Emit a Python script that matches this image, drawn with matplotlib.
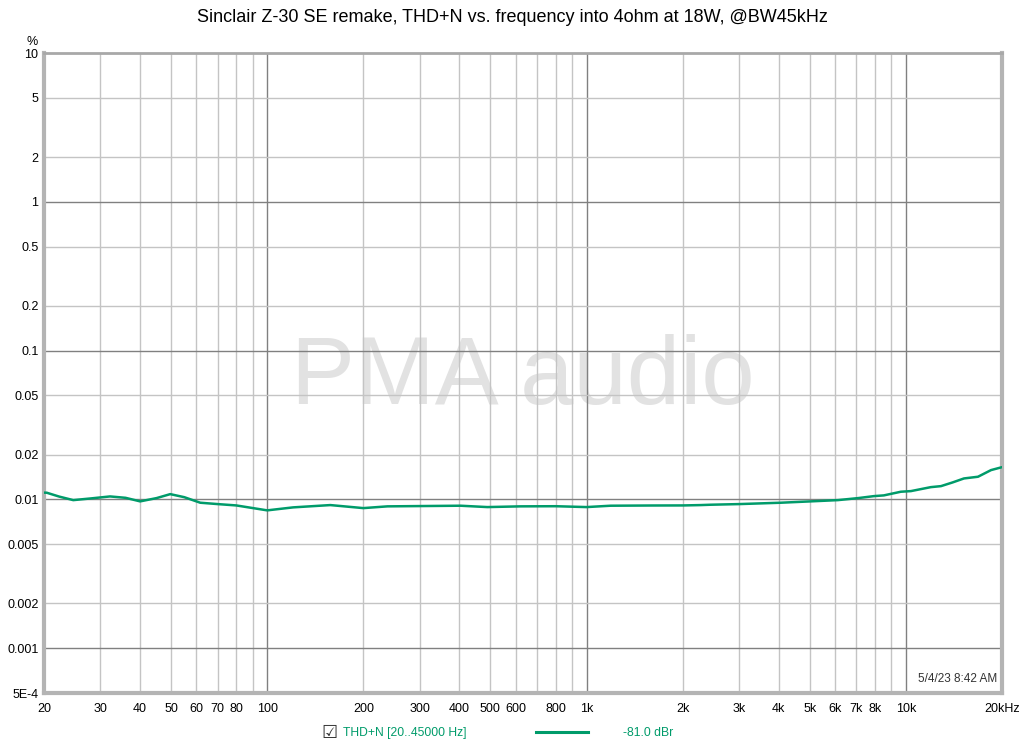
import matplotlib
matplotlib.use("Agg")
import matplotlib.pyplot as plt
import numpy as np
from matplotlib.ticker import FixedLocator, NullLocator

plt.rcParams['font.family'] = ['Liberation Sans', 'DejaVu Sans']

# Data
freq_hz = [20, 20.4, 22.3, 24.7, 28, 32.2, 36, 40, 45, 49.7, 55, 61.7, 70, 80, 90,
           100, 120.6, 157.6, 200, 238, 300, 403, 489, 621, 800, 1000, 1190,
           1600, 2010, 2278, 2448, 3000, 4058, 5036, 6124, 7075, 7938, 8531,
           9644, 10370, 11970, 12880, 14000, 15200, 16820, 18480, 20000]
thd_pct = [0.0111, 0.01109, 0.01045, 0.00989, 0.01015, 0.01047, 0.01025, 0.00970,
           0.01020, 0.01085, 0.01035, 0.00950, 0.00930, 0.00911, 0.00875,
           0.00844, 0.00884, 0.00916, 0.00874, 0.00898, 0.00902, 0.00907,
           0.00888, 0.00898, 0.00900, 0.00888, 0.00907, 0.00910, 0.00911,
           0.00916, 0.00921, 0.00930, 0.00950, 0.00970, 0.00989, 0.01020,
           0.01052, 0.01064, 0.01126, 0.01137, 0.01209, 0.01228, 0.01300,
           0.01383, 0.01420, 0.01574, 0.01647]

x_ticks = [20, 30, 40, 50, 60, 70, 80, 100, 200, 300, 400, 500, 600, 800,
           1000, 2000, 3000, 4000, 5000, 6000, 7000, 8000, 10000, 20000]
x_labels = ['20', '30', '40', '50', '60', '70', '80', '100', '200', '300', '400',
            '500', '600', '800', '1k', '2k', '3k', '4k', '5k', '6k', '7k', '8k',
            '10k', '20kHz']
x_minor_grid = [30, 40, 50, 60, 70, 80, 90, 200, 300, 400, 500, 600, 700, 800, 900,
                2000, 3000, 4000, 5000, 6000, 7000, 8000, 9000]
x_major_grid = [100, 1000, 10000]

y_ticks = [10, 5, 2, 1, 0.5, 0.2, 0.1, 0.05, 0.02, 0.01, 0.005, 0.002, 0.001, 0.0005]
y_labels = ['10', '5', '2', '1', '0.5', '0.2', '0.1', '0.05', '0.02', '0.01',
            '0.005', '0.002', '0.001', '5E-4']
y_minor_grid = [5, 2, 0.5, 0.2, 0.05, 0.02, 0.005, 0.002]
y_major_grid = [1, 0.1, 0.01, 0.001]

title = "Sinclair Z-30 SE remake, THD+N vs. frequency into 4ohm at 18W, @BW45kHz"
legend_label = "THD+N [20..45000 Hz]"
legend_value = "-81.0 dBr"
timestamp = "5/4/23 8:42 AM"

line_color = '#009b6a'

fig = plt.figure(figsize=(10.24, 7.47), dpi=100)
W, H = 1024, 747
ax = fig.add_axes([44 / W, (H - 693) / H, 958 / W, 640 / H])
ax.set_xscale('log')
ax.set_yscale('log')
ax.set_xlim(20, 20000)
ax.set_ylim(0.0005, 10)

for v in x_minor_grid:
    ax.axvline(v, color='#c4c4c4', lw=1.0, zorder=1)
for v in x_major_grid:
    ax.axvline(v, color='#808080', lw=1.0, zorder=1)
for v in y_minor_grid:
    ax.axhline(v, color='#c4c4c4', lw=1.0, zorder=1)
for v in y_major_grid:
    ax.axhline(v, color='#808080', lw=1.0, zorder=1)

ax.plot(freq_hz, thd_pct, color=line_color, lw=1.8, zorder=3,
        solid_capstyle='round', solid_joinstyle='round')

ax.xaxis.set_major_locator(FixedLocator(x_ticks))
ax.xaxis.set_minor_locator(NullLocator())
ax.set_xticklabels(x_labels)
ax.yaxis.set_major_locator(FixedLocator(y_ticks))
ax.yaxis.set_minor_locator(NullLocator())
ax.set_yticklabels(y_labels)
ax.tick_params(axis='both', length=0, labelsize=9, colors='black')
ax.tick_params(axis='x', pad=7)
ax.tick_params(axis='y', pad=4)

for s in ['left', 'bottom', 'right']:
    ax.spines[s].set_color('#b4b4b4')
    ax.spines[s].set_linewidth(3)
ax.spines['top'].set_color('#a8a8a8')
ax.spines['top'].set_linewidth(2)

# watermark
ax.text(0.5, 0.49, 'PMA audio', transform=ax.transAxes, ha='center', va='center',
        fontsize=69, color='#e2e2e2', zorder=0)

# % unit
fig.text(38 / W, 1 - 42 / H, '%', ha='right', va='center', fontsize=9)

# timestamp
ax.text(0.995, 0.012, timestamp, transform=ax.transAxes, ha='right', va='bottom',
        fontsize=8.5, color='#333333', zorder=4,
        bbox=dict(facecolor='white', edgecolor='none', pad=1.5))

fig.suptitle(title, x=512 / W, y=1 - 18 / H, ha='center', va='center', fontsize=13)

# legend row
fig.text(329 / W, 1 - 733 / H, '\u2611', ha='center', va='center', fontsize=13,
         family=['DejaVu Sans'], color='#333333')
fig.text(343 / W, 1 - 733 / H, legend_label, ha='left', va='center', fontsize=8.7,
         color=line_color)
fig.add_artist(plt.Line2D([536 / W, 588 / W], [1 - 732 / H, 1 - 732 / H],
                          color=line_color, lw=2.2, transform=fig.transFigure))
fig.text(623 / W, 1 - 733 / H, legend_value, ha='left', va='center', fontsize=8.7,
         color=line_color)

fig.savefig('out.png', dpi=100)
